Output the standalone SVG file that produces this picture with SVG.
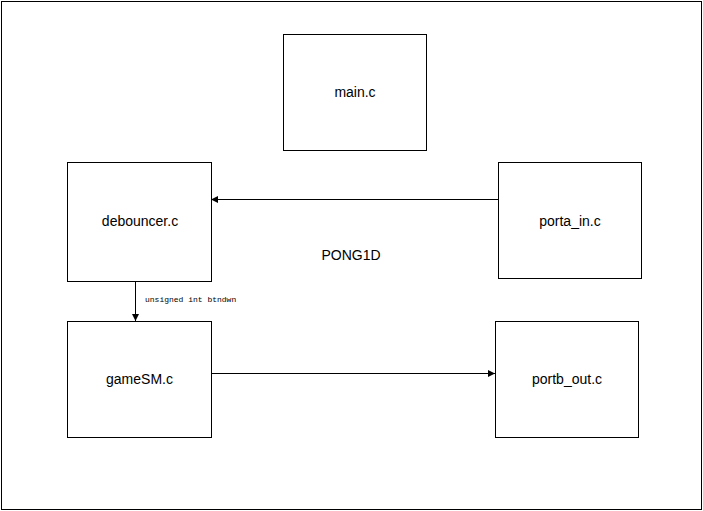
<svg xmlns="http://www.w3.org/2000/svg" width="703" height="511" viewBox="0 0 703 511">
<style>
.box{fill:#fff;stroke:#000;stroke-width:1}
.lbl{font-family:"Liberation Sans",Arial,sans-serif;font-size:14px;fill:#000;text-anchor:middle}
.ln{stroke:#000;stroke-width:1;fill:none}
</style>
<defs>
<marker id="ah" markerWidth="8" markerHeight="8" refX="7" refY="4" orient="auto" markerUnits="userSpaceOnUse">
<path d="M0,0.5 L7,4 L0,7.5 Z" fill="#000"/>
</marker>
</defs>
<rect x="0" y="0" width="703" height="511" fill="#fff"/>
<rect x="1.5" y="1.5" width="700" height="508" class="box"/>
<text x="351" y="260" class="lbl">PONG1D</text>
<g id="main"><rect x="283.5" y="34.5" width="143" height="116" class="box"/><text x="355" y="97" class="lbl">main.c</text></g>
<g id="debouncer"><rect x="67.5" y="162.5" width="144" height="119" class="box"/><text x="140" y="226" class="lbl">debouncer.c</text></g>
<g id="porta_in"><rect x="498.5" y="162.5" width="143" height="116" class="box"/><text x="570" y="226" class="lbl">porta_in.c</text></g>
<g id="gameSM"><rect x="67.5" y="321.5" width="144" height="116" class="box"/><text x="139.5" y="384" class="lbl">gameSM.c</text></g>
<g id="portb_out"><rect x="495.5" y="321.5" width="143" height="116" class="box"/><text x="567" y="384" class="lbl">portb_out.c</text></g>
<g id="connectors">
<line x1="498" y1="199.5" x2="211" y2="199.5" class="ln" marker-end="url(#ah)"/>
<line x1="135.5" y1="282" x2="135.5" y2="321" class="ln" marker-end="url(#ah)"/>
<text x="145" y="302" font-family="Liberation Mono,monospace" font-size="8" fill="#000">unsigned int btndwn</text>
<line x1="212" y1="373.5" x2="495" y2="373.5" class="ln" marker-end="url(#ah)"/>
</g>
</svg>
